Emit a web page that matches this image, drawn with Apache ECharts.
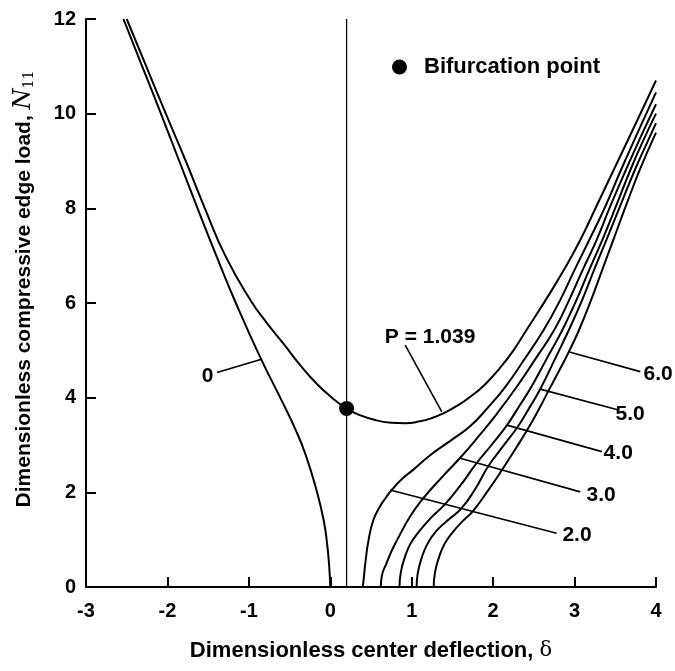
<!DOCTYPE html>
<html><head><meta charset="utf-8">
<script src="https://cdn.jsdelivr.net/npm/echarts@6/dist/echarts.min.js"></script>
<style>html,body{margin:0;padding:0;background:#fff}#c{width:675px;height:671px}</style>
</head><body><div id="c"></div>
<script>
// Axis ticks
const xTicks = [-3, -2, -1, 0, 1, 2, 3, 4];
const yTicks = [0, 2, 4, 6, 8, 10, 12];

// Curves: [delta, N11]
const curveP0 = [[-2.54,12.0],[-2.31,11.0],[-2.08,10.0],[-1.855,9.0],[-1.63,8.0],[-1.40,7.0],[-1.16,6.0],[-0.86,4.85],[-0.58,3.88],[-0.42,3.30],[-0.30,2.78],[-0.17,2.05],[-0.08,1.40],[-0.035,0.85],[-0.012,0.40],[0.0,0.0]];
const curveP1039 = [[-2.50,12.0],[-2.26,11.0],[-2.02,10.0],[-1.775,9.0],[-1.54,8.0],[-1.29,7.0],[-0.98,6.06],[-0.78,5.58],[-0.58,5.15],[-0.38,4.71],[-0.17,4.30],[0.02,4.0],[0.20,3.77],[0.38,3.62],[0.57,3.52],[0.75,3.47],[0.92,3.46],[1.10,3.50],[1.25,3.57],[1.39,3.67],[1.55,3.82],[1.72,4.02],[1.90,4.28],[2.08,4.62],[2.25,5.0],[2.41,5.43],[2.64,6.05],[2.87,6.70],[3.07,7.33],[3.27,8.05],[3.48,8.81],[3.74,9.75],[4.0,10.7]];
const curveP2 = [[0.40,0.0],[0.415,0.25],[0.43,0.5],[0.47,0.99],[0.53,1.42],[0.61,1.70],[0.68,1.88],[0.755,2.05],[0.88,2.28],[1.02,2.48],[1.23,2.79],[1.50,3.12],[1.72,3.40],[1.93,3.78],[2.15,4.23],[2.38,4.80],[2.62,5.43],[2.82,6.05],[3.00,6.70],[3.18,7.33],[3.38,8.05],[3.57,8.81],[3.78,9.62],[4.0,10.45]];
const curveP3 = [[0.62,0.0],[0.635,0.25],[0.69,0.5],[0.75,0.75],[0.82,0.99],[0.98,1.49],[1.14,1.87],[1.35,2.28],[1.59,2.72],[1.82,3.18],[2.05,3.67],[2.29,4.23],[2.52,4.82],[2.75,5.43],[2.93,6.05],[3.10,6.70],[3.27,7.33],[3.44,8.05],[3.63,8.81],[3.815,9.52],[4.0,10.2]];
const curveP4 = [[0.85,0.0],[0.865,0.3],[0.91,0.6],[0.98,0.9],[1.08,1.15],[1.23,1.45],[1.41,1.75],[1.60,2.15],[1.79,2.60],[1.98,3.0],[2.17,3.42],[2.32,3.82],[2.47,4.23],[2.66,4.83],[2.85,5.43],[3.02,6.05],[3.18,6.70],[3.34,7.33],[3.51,8.05],[3.685,8.81],[3.84,9.42],[4.0,10.0]];
const curveP5 = [[1.06,0.0],[1.075,0.3],[1.12,0.6],[1.19,0.9],[1.30,1.18],[1.45,1.42],[1.61,1.66],[1.78,2.07],[1.94,2.55],[2.12,2.97],[2.30,3.38],[2.45,3.80],[2.59,4.22],[2.76,4.82],[2.93,5.43],[3.09,6.05],[3.24,6.70],[3.39,7.33],[3.56,8.05],[3.74,8.81],[3.87,9.31],[4.0,9.8]];
const curveP6 = [[1.27,0.0],[1.285,0.3],[1.33,0.6],[1.40,0.9],[1.50,1.15],[1.62,1.38],[1.75,1.60],[1.93,2.02],[2.10,2.45],[2.26,2.88],[2.42,3.32],[2.56,3.75],[2.69,4.18],[2.81,4.57],[2.93,4.97],[3.055,5.43],[3.20,6.05],[3.34,6.70],[3.475,7.33],[3.63,8.05],[3.80,8.81],[4.0,9.6]];

// Bifurcation point and vertical reference line
const bifurcationPoint = [0.20, 3.77];
const verticalLineX = 0.20;

// Curve labels and leader lines
const curveLabelText = ['0', 'P = 1.039', '2.0', '3.0', '4.0', '5.0', '6.0'];
const curveLabelPos = [[-1.507,4.45],[1.226,5.28],[3.03,1.10],[3.327,1.94],[3.536,2.83],[3.683,3.655],[4.027,4.49]];
const leaderFrom = [[-0.845,4.81],[1.37,3.70],[0.735,2.05],[1.595,2.72],[2.168,3.42],[2.577,4.18],[2.925,4.97]];
const leaderTo = [[-1.39,4.53],[0.92,5.11],[2.78,1.135],[3.07,2.01],[3.335,2.86],[3.54,3.74],[3.806,4.55]];

const FONT = '"Liberation Sans", Arial, sans-serif';
const curves = [curveP0, curveP1039, curveP2, curveP3, curveP4, curveP5, curveP6];

const series = [];
curves.forEach((d, i) => {
  series.push({
    type: 'line', name: 'P = ' + curveLabelText[i], data: d,
    showSymbol: false, symbol: 'none', smooth: 0.5,
    lineStyle: { color: '#000', width: 2 }, silent: true, z: 3
  });
});
series.push({
  type: 'line', name: 'ref', data: [[verticalLineX, yTicks[0]], [verticalLineX, yTicks[yTicks.length - 1]]],
  showSymbol: false, symbol: 'none', lineStyle: { color: '#000', width: 1.3 }, silent: true, z: 2
});
leaderFrom.forEach((p, i) => {
  series.push({
    type: 'line', name: 'leader' + i, data: [p, leaderTo[i]],
    showSymbol: false, symbol: 'none', lineStyle: { color: '#000', width: 1.6 }, silent: true, z: 2, clip: false
  });
});
series.push({
  type: 'scatter', name: 'labels', clip: false, silent: true,
  symbol: 'circle', symbolSize: 1, itemStyle: { color: '#fff', opacity: 0 },
  data: curveLabelPos.map((p, i) => ({ value: p, label: { formatter: curveLabelText[i] } })),
  label: { show: true, position: 'inside', color: '#000', opacity: 1, fontFamily: FONT, fontWeight: 'bold', fontSize: 21, textBorderWidth: 0 },
  z: 5
});
series.push({
  type: 'scatter', name: 'Bifurcation point', data: [bifurcationPoint],
  symbol: 'circle', symbolSize: 15, itemStyle: { color: '#000', opacity: 1 }, z: 6, silent: true
});

const chart = echarts.init(document.getElementById('c'), null, { renderer: 'canvas' });
chart.setOption({
  backgroundColor: '#fff',
  animation: false,
  grid: { left: 86, right: 19, top: 19, bottom: 84, containLabel: false, outerBoundsMode: 'none' },
  legend: {
    data: ['Bifurcation point'], left: 392, top: 56, padding: 0, selectedMode: false,
    icon: 'circle', itemWidth: 15, itemHeight: 15, itemStyle: { color: '#000', opacity: 1 },
    textStyle: { color: '#000', fontFamily: FONT, fontWeight: 'bold', fontSize: 22, padding: [0, 0, 0, 12] }
  },
  xAxis: {
    type: 'value', min: xTicks[0], max: xTicks[xTicks.length - 1], interval: 1,
    name: '{a|Dimensionless center deflection, }{d|δ}', nameLocation: 'middle', nameGap: 53,
    nameTextStyle: {
      rich: {
        a: { fontFamily: FONT, fontWeight: 'bold', fontSize: 22, color: '#000' },
        d: { fontFamily: '"DejaVu Serif", serif', fontSize: 21, color: '#000' }
      }
    },
    axisLine: { show: true, onZero: false, lineStyle: { color: '#000', width: 2 } },
    axisTick: { show: true, inside: true, length: 10, lineStyle: { color: '#000', width: 2 } },
    axisLabel: { color: '#000', fontFamily: FONT, fontWeight: 'bold', fontSize: 20, margin: 14 },
    splitLine: { show: false }
  },
  yAxis: {
    type: 'value', min: yTicks[0], max: yTicks[yTicks.length - 1], interval: 2,
    name: '{a|Dimensionless compressive edge load, }{n|N}{s|11}', nameLocation: 'middle', nameGap: 50,
    nameTextStyle: {
      padding: [0, 0, 0, 28],
      rich: {
        a: { fontFamily: FONT, fontWeight: 'bold', fontSize: 21, color: '#000' },
        n: { fontFamily: '"DejaVu Serif", serif', fontStyle: 'italic', fontSize: 24, color: '#000' },
        s: { fontFamily: '"DejaVu Serif", serif', fontSize: 14, color: '#000', verticalAlign: 'bottom', padding: [10, 0, 0, 0] }
      }
    },
    axisLine: { show: true, onZero: false, lineStyle: { color: '#000', width: 2 } },
    axisTick: { show: true, inside: true, length: 10, lineStyle: { color: '#000', width: 2 } },
    axisLabel: { color: '#000', fontFamily: FONT, fontWeight: 'bold', fontSize: 20, margin: 10 },
    splitLine: { show: false }
  },
  series: series
});
</script>
</body></html>
